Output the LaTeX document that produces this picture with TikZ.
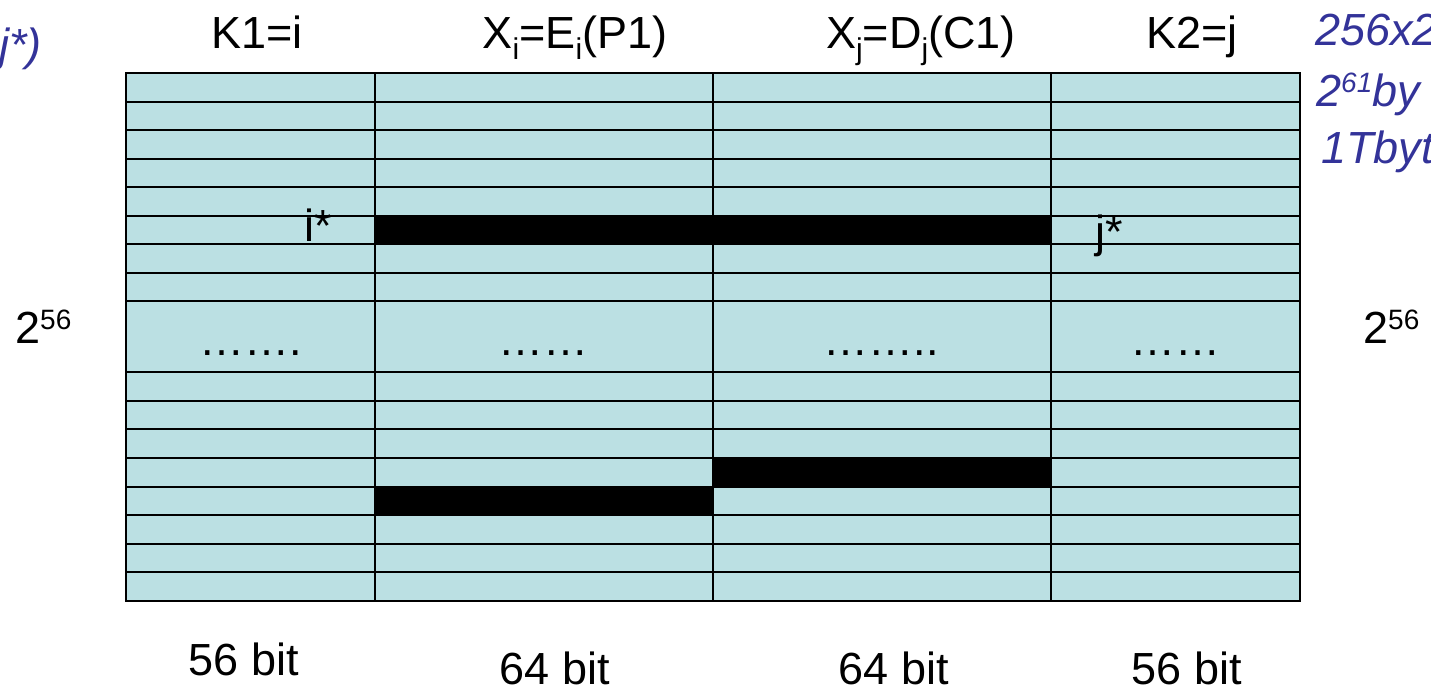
\documentclass[tikz,border=0pt]{standalone}
\usepackage{fontspec}
\setmainfont{Liberation Sans}
\definecolor{cellfill}{RGB}{187,224,227}
\definecolor{noteblue}{RGB}{51,51,153}
\newcommand{\supnum}[1]{\raisebox{0.3em}{\fontsize{28}{28}\selectfont #1}}
\newcommand{\subidx}[1]{\raisebox{-0.26em}{\fontsize{30}{30}\selectfont #1}}
\begin{document}
\begin{tikzpicture}[x=1pt,y=-1pt,
  lbl/.style={inner sep=0pt, anchor=base, font=\fontsize{45}{54}\selectfont},
  widthlbl/.style={lbl, text depth=0pt},
  note/.style={inner sep=0pt, anchor=base west, text=noteblue,
               font=\fontsize{45}{54}\selectfont\itshape},
  gridline/.style={draw=black, line width=2pt},
  hitbar/.style={fill=black}]
\useasboundingbox (0,0) rectangle (1431,691);
\clip (0,0) rectangle (1431,691);

% table body
\fill[cellfill] (126,73) rectangle (1300,601);

% matching entries
\fill[hitbar] (375,215.5) rectangle (1051,244);
\fill[hitbar] (713,457.9) rectangle (1051,486.5);
\fill[hitbar] (375,486.5) rectangle (713,515.1);

% row separators
\foreach \y in {101.5,130,158.5,187,215.5,244,272.5,301,
                372,400.6,429.3,457.9,486.5,515.1,543.8,572.4}
  \draw[gridline] (126,\y) -- (1300,\y);
% column separators
\foreach \x in {375,713,1051}
  \draw[gridline] (\x,73) -- (\x,601);
\draw[gridline] (126,73) rectangle (1300,601);

% column headers
\node[lbl] (h1) at (257,48) {K1=i};
\node[lbl] (h2) at (575,48) {X\subidx{i}=E\subidx{i}(P1)};
\node[lbl] (h3) at (921,48) {X\subidx{j}=D\subidx{j}(C1)};
\node[lbl] (h4) at (1192,48) {K2=j};

% row markers
\node[lbl] (istar) at (318,241) {i*};
\node[lbl] (jstar) at (1109,247) {j*};

% elided rows
\node[lbl] (d1) at (251,355) {…….};
\node[lbl] (d2) at (543,355) {……};
\node[lbl] (d3) at (881,355) {……..};
\node[lbl] (d4) at (1175,355) {……};

% table height
\node[lbl, anchor=base west] (nl) at (15,343) {2\supnum{56}};
\node[lbl, anchor=base west] (nr) at (1363,343) {2\supnum{56}};

% column widths
\node[widthlbl] (w1) at (244,675) {56 bit};
\node[widthlbl] (w2) at (555,684) {64 bit};
\node[widthlbl] (w3) at (894,684) {64 bit};
\node[widthlbl] (w4) at (1187,684) {56 bit};

% side notes
\node[note] (nleft) at (-1,60) {j*)};
\node[note] (r1) at (1315,45) {256x2};
\node[note] (r2) at (1316,106) {2\supnum{61}by};
\node[note] (r3) at (1321,163) {1Tbyt};
\end{tikzpicture}
\end{document}
